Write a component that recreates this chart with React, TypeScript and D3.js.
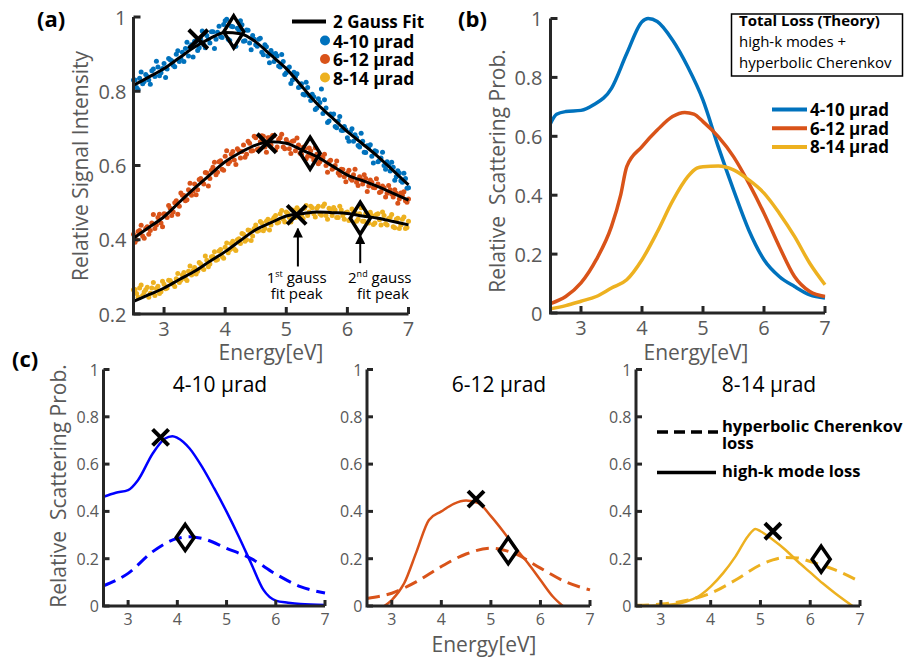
import React from "react";
import * as d3 from "d3";

const W = 909;
const H = 663;
const FONT = "'Open Sans', 'Noto Sans', sans-serif";
const BLUE = "#0072BD";
const ORANGE = "#D95319";
const YELLOW = "#EDB120";
const PURE_BLUE = "#0000FF";
const AXIS = "#262626";
const TICK_TXT = "#595959";

type Pt = [number, number];

// ---- panel (a): measured intensity, two interleaved passes sampled every 0.05 eV
const scatterStart = [2.5, 2.525];
const scatterStep = 0.05;
const signal410 = [
  0.83, 0.81, 0.835, 0.82, 0.845, 0.83, 0.855, 0.84, 0.865, 0.85,
  0.875, 0.86, 0.885, 0.87, 0.9, 0.88, 0.905, 0.915, 0.895, 0.925,
  0.935, 0.91, 0.94, 0.925, 0.95, 0.93, 0.96, 0.94, 0.975, 0.945,
  0.99, 0.94, 0.975, 0.92, 0.97, 0.99, 0.935, 0.965, 0.93, 0.95,
  0.925, 0.94, 0.905, 0.925, 0.895, 0.91, 0.88, 0.895, 0.865, 0.88,
  0.85, 0.865, 0.83, 0.84, 0.81, 0.82, 0.79, 0.81, 0.775, 0.785,
  0.755, 0.77, 0.74, 0.755, 0.72, 0.735, 0.705, 0.72, 0.695, 0.705,
  0.675, 0.69, 0.665, 0.675, 0.65, 0.665, 0.635, 0.65, 0.625, 0.64,
  0.61, 0.62, 0.6, 0.61, 0.585, 0.595, 0.57, 0.58, 0.555, 0.565, 0.54,
];
const signal410b = [
  0.83, 0.805, 0.852, 0.826, 0.84, 0.819, 0.86, 0.881, 0.842, 0.861,
  0.837, 0.888, 0.882, 0.866, 0.909, 0.889, 0.88, 0.932, 0.919, 0.892,
  0.935, 0.917, 0.962, 0.917, 0.94, 0.96, 0.915, 0.959, 0.947, 0.98,
  0.994, 0.937, 0.974, 0.921, 0.964, 0.979, 0.936, 0.964, 0.912, 0.94,
  0.921, 0.943, 0.898, 0.92, 0.877, 0.901, 0.902, 0.868, 0.899, 0.845,
  0.861, 0.821, 0.851, 0.847, 0.812, 0.792, 0.824, 0.788, 0.792, 0.751,
  0.78, 0.806, 0.777, 0.716, 0.739, 0.739, 0.702, 0.732, 0.694, 0.696,
  0.665, 0.699, 0.683, 0.654, 0.687, 0.636, 0.653, 0.656, 0.607, 0.638,
  0.614, 0.636, 0.59, 0.601, 0.609, 0.56, 0.586, 0.559, 0.579, 0.539,
];
const signal612 = [
  0.415, 0.4, 0.425, 0.41, 0.43, 0.415, 0.445, 0.43, 0.46, 0.445,
  0.47, 0.46, 0.485, 0.475, 0.505, 0.49, 0.52, 0.505, 0.535, 0.52,
  0.55, 0.535, 0.565, 0.55, 0.58, 0.565, 0.595, 0.575, 0.61, 0.59,
  0.625, 0.605, 0.63, 0.615, 0.645, 0.62, 0.655, 0.63, 0.66, 0.64,
  0.675, 0.645, 0.68, 0.65, 0.675, 0.655, 0.68, 0.65, 0.675, 0.65,
  0.67, 0.645, 0.665, 0.64, 0.655, 0.63, 0.645, 0.625, 0.64, 0.615,
  0.63, 0.61, 0.62, 0.6, 0.61, 0.59, 0.6, 0.58, 0.59, 0.57,
  0.58, 0.565, 0.575, 0.555, 0.57, 0.55, 0.565, 0.545, 0.555, 0.54,
  0.55, 0.53, 0.54, 0.525, 0.535, 0.515, 0.525, 0.51, 0.52, 0.505, 0.51,
];
const signal612b = [
  0.393, 0.422, 0.439, 0.404, 0.435, 0.425, 0.468, 0.44, 0.469, 0.435,
  0.469, 0.492, 0.465, 0.5, 0.469, 0.526, 0.519, 0.508, 0.552, 0.531,
  0.521, 0.562, 0.557, 0.581, 0.545, 0.587, 0.609, 0.582, 0.613, 0.587,
  0.64, 0.611, 0.638, 0.603, 0.64, 0.638, 0.622, 0.665, 0.639, 0.679,
  0.643, 0.664, 0.679, 0.636, 0.675, 0.681, 0.642, 0.67, 0.684, 0.645,
  0.662, 0.632, 0.667, 0.674, 0.633, 0.649, 0.618, 0.647, 0.624, 0.648,
  0.605, 0.623, 0.63, 0.582, 0.614, 0.593, 0.612, 0.574, 0.589, 0.556,
  0.587, 0.56, 0.59, 0.546, 0.562, 0.575, 0.53, 0.561, 0.541, 0.564,
  0.527, 0.545, 0.515, 0.546, 0.523, 0.535, 0.498, 0.526, 0.529, 0.501,
];
const signal814 = [
  0.265, 0.255, 0.27, 0.25, 0.265, 0.245, 0.27, 0.25, 0.275, 0.26,
  0.28, 0.27, 0.29, 0.28, 0.295, 0.285, 0.305, 0.295, 0.315, 0.305,
  0.325, 0.315, 0.335, 0.32, 0.345, 0.335, 0.355, 0.345, 0.37, 0.355,
  0.38, 0.365, 0.39, 0.375, 0.4, 0.39, 0.415, 0.4, 0.425, 0.41,
  0.44, 0.425, 0.445, 0.43, 0.455, 0.44, 0.46, 0.445, 0.47, 0.455,
  0.475, 0.46, 0.48, 0.46, 0.48, 0.465, 0.485, 0.465, 0.49, 0.47,
  0.485, 0.47, 0.49, 0.465, 0.485, 0.465, 0.48, 0.46, 0.48, 0.455,
  0.475, 0.455, 0.475, 0.45, 0.47, 0.45, 0.47, 0.445, 0.465, 0.445,
  0.47, 0.44, 0.465, 0.44, 0.46, 0.435, 0.455, 0.43, 0.455, 0.43, 0.45,
];
const signal814b = [
  0.266, 0.245, 0.278, 0.259, 0.272, 0.256, 0.285, 0.269, 0.255, 0.288,
  0.268, 0.291, 0.284, 0.274, 0.309, 0.291, 0.312, 0.29, 0.329, 0.317,
  0.308, 0.339, 0.323, 0.356, 0.327, 0.354, 0.368, 0.347, 0.374, 0.35,
  0.391, 0.373, 0.396, 0.371, 0.403, 0.417, 0.396, 0.426, 0.398, 0.43,
  0.423, 0.449, 0.424, 0.45, 0.426, 0.454, 0.465, 0.447, 0.479, 0.448,
  0.471, 0.448, 0.479, 0.486, 0.464, 0.457, 0.492, 0.475, 0.486, 0.461,
  0.49, 0.466, 0.496, 0.455, 0.481, 0.487, 0.46, 0.49, 0.465, 0.473,
  0.452, 0.483, 0.474, 0.455, 0.486, 0.45, 0.467, 0.474, 0.441, 0.468,
  0.454, 0.475, 0.443, 0.457, 0.468, 0.432, 0.458, 0.44, 0.461, 0.433,
];

// two-gaussian fits
const fitEnergy = [2.5, 2.75, 3, 3.25, 3.5, 3.75, 4, 4.25, 4.5, 4.75, 5, 5.25, 5.5, 5.75, 6, 6.25, 6.5, 6.75, 7];
const fit410 = [0.816, 0.838, 0.861, 0.89, 0.919, 0.942, 0.958, 0.955, 0.933, 0.897, 0.861, 0.814, 0.767, 0.729, 0.691, 0.658, 0.624, 0.586, 0.548];
const fit612 = [0.404, 0.433, 0.462, 0.501, 0.539, 0.575, 0.61, 0.635, 0.655, 0.664, 0.66, 0.642, 0.624, 0.599, 0.574, 0.559, 0.543, 0.525, 0.507];
const fit814 = [0.234, 0.252, 0.27, 0.293, 0.315, 0.342, 0.368, 0.398, 0.427, 0.446, 0.464, 0.47, 0.475, 0.473, 0.471, 0.464, 0.458, 0.449, 0.44];

const peak1A: Pt[] = [[3.56, 0.94], [4.68, 0.66], [5.17, 0.467]];
const peak2A: Pt[] = [[4.14, 0.96], [5.39, 0.633], [6.21, 0.458]];

// ---- panel (b): total loss (theory)
const total410: Pt[] = [[2.5, 0.644], [2.6, 0.675], [2.75, 0.684], [3.0, 0.688], [3.2, 0.706], [3.5, 0.763], [3.75, 0.881], [4.0, 0.989], [4.1, 1.0], [4.25, 0.99], [4.5, 0.927], [4.75, 0.836], [5.0, 0.723], [5.25, 0.565], [5.5, 0.418], [5.75, 0.282], [6.0, 0.181], [6.25, 0.124], [6.5, 0.09], [6.75, 0.062], [7, 0.051]];
const total612: Pt[] = [[2.5, 0.032], [2.75, 0.056], [3.0, 0.102], [3.25, 0.181], [3.5, 0.294], [3.65, 0.4], [3.75, 0.497], [4.0, 0.565], [4.25, 0.621], [4.5, 0.667], [4.7, 0.681], [4.85, 0.675], [5.0, 0.65], [5.25, 0.599], [5.5, 0.531], [5.75, 0.441], [6.0, 0.339], [6.25, 0.226], [6.5, 0.124], [6.75, 0.073], [7, 0.056]];
const total814: Pt[] = [[2.5, 0.014], [2.75, 0.025], [3.0, 0.04], [3.25, 0.056], [3.5, 0.085], [3.75, 0.113], [4.0, 0.181], [4.25, 0.275], [4.5, 0.38], [4.75, 0.463], [4.9, 0.492], [5.0, 0.497], [5.25, 0.499], [5.5, 0.486], [5.75, 0.452], [6.0, 0.407], [6.25, 0.339], [6.5, 0.26], [6.75, 0.169], [7, 0.096]];

// ---- panel (c): high-k mode loss (solid) and hyperbolic Cherenkov loss (dashed)
const highK410: Pt[] = [[2.5, 0.462], [2.75, 0.479], [3.0, 0.49], [3.2, 0.532], [3.5, 0.645], [3.75, 0.708], [3.9, 0.718], [4.0, 0.711], [4.25, 0.666], [4.5, 0.589], [4.75, 0.497], [5.0, 0.399], [5.25, 0.293], [5.5, 0.18], [5.75, 0.068], [6.0, 0.023], [6.25, 0.014], [6.5, 0.008], [7, 0.004]];
const cher410: Pt[] = [[2.5, 0.085], [3.0, 0.138], [3.5, 0.23], [4.0, 0.286], [4.25, 0.293], [4.5, 0.286], [5.0, 0.244], [5.5, 0.2], [6.0, 0.135], [6.5, 0.082], [7, 0.055]];
const highK612: Pt[] = [[2.85, 0], [3.0, 0.025], [3.25, 0.096], [3.5, 0.23], [3.75, 0.364], [4.0, 0.4], [4.25, 0.432], [4.5, 0.446], [4.75, 0.435], [5.0, 0.38], [5.25, 0.315], [5.5, 0.244], [5.75, 0.181], [6.0, 0.11], [6.25, 0.04], [6.45, 0]];
const cher612: Pt[] = [[2.5, 0.032], [3.0, 0.054], [3.5, 0.103], [4.0, 0.167], [4.5, 0.22], [5.0, 0.244], [5.25, 0.237], [5.5, 0.22], [6.0, 0.16], [6.5, 0.103], [7, 0.068]];
const highK814: Pt[] = [[2.5, 0], [3.0, 0.003], [3.25, 0.007], [3.5, 0.018], [3.75, 0.04], [4.0, 0.082], [4.25, 0.139], [4.5, 0.21], [4.75, 0.295], [4.9, 0.326], [5.0, 0.316], [5.25, 0.28], [5.5, 0.238], [5.75, 0.188], [6.0, 0.142], [6.25, 0.096], [6.5, 0.054], [6.85, 0]];
const cher814: Pt[] = [[2.5, 0.003], [3.0, 0.008], [3.5, 0.023], [4.0, 0.054], [4.5, 0.11], [5.0, 0.174], [5.25, 0.195], [5.5, 0.205], [5.75, 0.203], [6.0, 0.188], [6.5, 0.153], [7, 0.103]];

const peak1C: Pt[] = [[3.66, 0.713], [4.7, 0.452], [5.25, 0.316]];
const peak2C: Pt[] = [[4.16, 0.29], [5.35, 0.234], [6.22, 0.198]];

const angleLabels = ["4-10 μrad", "6-12 μrad", "8-14 μrad"];
const energyTicks = [3, 4, 5, 6, 7];
const ticksA = [0.2, 0.4, 0.6, 0.8, 1];
const ticksB = [0, 0.2, 0.4, 0.6, 0.8, 1];

type Scale = d3.ScaleLinear<number, number>;

function Axes({ x, y, yTicks, fs, gap, labelDy, tick }: { x: Scale; y: Scale; yTicks: number[]; fs: number; gap: number; labelDy: number; tick: number }) {
  const [x0, x1] = x.range();
  const [y0, y1] = y.range();
  return (
    <g>
      <path d={`M${x0},${y1}V${y0}H${x1}`} fill="none" stroke={AXIS} strokeWidth={3} />
      {yTicks.map((t) => (
        <line key={"y" + t} x1={x0} x2={x0 + tick} y1={y(t)} y2={y(t)} stroke={AXIS} strokeWidth={3} />
      ))}
      {energyTicks.map((t) => (
        <line key={"x" + t} x1={x(t)} x2={x(t)} y1={y0} y2={y0 - tick} stroke={AXIS} strokeWidth={3} />
      ))}
      {yTicks.map((t) => (
        <text key={"yl" + t} x={x0 - gap} y={y(t)} textAnchor="end" dominantBaseline="central" fontSize={fs} fill={TICK_TXT}>
          {String(t)}
        </text>
      ))}
      {energyTicks.map((t) => (
        <text key={"xl" + t} x={x(t)} y={y0 + labelDy} textAnchor="middle" fontSize={fs} fill={TICK_TXT}>
          {t}
        </text>
      ))}
    </g>
  );
}

const Cross = ({ cx, cy, s, w }: { cx: number; cy: number; s: number; w: number }) => (
  <path d={`M${cx - s},${cy - s}L${cx + s},${cy + s}M${cx - s},${cy + s}L${cx + s},${cy - s}`} stroke="#000" strokeWidth={w} fill="none" />
);
const Diamond = ({ cx, cy, a, b, w }: { cx: number; cy: number; a: number; b: number; w: number }) => (
  <path d={`M${cx},${cy - b}L${cx + a},${cy}L${cx},${cy + b}L${cx - a},${cy}Z`} stroke="#000" strokeWidth={w} fill="none" />
);

export default function App() {
  const xA = d3.scaleLinear().domain([2.5, 7]).range([133.5, 408.5]);
  const yA = d3.scaleLinear().domain([0.2, 1]).range([314, 17]);
  const xB = d3.scaleLinear().domain([2.5, 7]).range([550.5, 825]);
  const yB = d3.scaleLinear().domain([0, 1]).range([313, 18.5]);
  const xC = [
    d3.scaleLinear().domain([2.5, 7]).range([103.5, 325]),
    d3.scaleLinear().domain([2.5, 7]).range([367, 590]),
    d3.scaleLinear().domain([2.5, 7]).range([636, 860]),
  ];
  const yC = d3.scaleLinear().domain([0, 1]).range([606, 369.5]);

  const lineOf = (x: Scale, y: Scale) =>
    d3.line<Pt>().x((d) => x(d[0])).y((d) => y(d[1])).curve(d3.curveMonotoneX);

  const lineA = lineOf(xA, yA);
  const lineB = lineOf(xB, yB);

  const scatter = [
    { passes: [signal410, signal410b], fit: fit410, color: BLUE },
    { passes: [signal612, signal612b], fit: fit612, color: ORANGE },
    { passes: [signal814, signal814b], fit: fit814, color: YELLOW },
  ];

  const cPanels = [
    { solid: highK410, dashed: cher410, color: PURE_BLUE },
    { solid: highK612, dashed: cher612, color: ORANGE },
    { solid: highK814, dashed: cher814, color: YELLOW },
  ];
  const titleX = [220, 499, 769];

  return (
    <svg width={W} height={H} viewBox={`0 0 ${W} ${H}`} style={{ position: "absolute", left: 0, top: 0, background: "#fff" }} fontFamily={FONT}>
      <defs>
        <marker id="arrowHead" viewBox="0 0 10 10" refX="9" refY="5" markerWidth="5" markerHeight="5" markerUnits="strokeWidth" orient="auto">
          <path d="M0,0L10,5L0,10Z" fill="#000" />
        </marker>
      </defs>
      <rect width={W} height={H} fill="#fff" />

      {/* ---------------- (a) ---------------- */}
      <g>
        {scatter.map((s, si) => (
          <g key={si}>
            {s.passes.map((vals, pi) =>
              vals.map((v, i) => (
                <circle key={pi + "-" + i} cx={xA(scatterStart[pi] + i * scatterStep)} cy={yA(v)} r={2.5} fill={s.color} />
              ))
            )}
          </g>
        ))}
        {scatter.map((s, si) => (
          <path key={si} d={lineA(fitEnergy.map((e, i) => [e, s.fit[i]] as Pt)) || ""} fill="none" stroke="#000" strokeWidth={3} />
        ))}
        {peak1A.map((p, i) => (
          <Cross key={i} cx={xA(p[0])} cy={yA(p[1])} s={9.5} w={4} />
        ))}
        {peak2A.map((p, i) => (
          <Diamond key={i} cx={xA(p[0])} cy={yA(p[1])} a={10} b={16} w={3.5} />
        ))}
        <line x1={xA(5.19)} x2={xA(5.19)} y1={yA(0.328)} y2={yA(0.43)} stroke="#000" strokeWidth={2} markerEnd="url(#arrowHead)" />
        <line x1={xA(6.21)} x2={xA(6.21)} y1={yA(0.337)} y2={yA(0.413)} stroke="#000" strokeWidth={2} markerEnd="url(#arrowHead)" />
        <text x={xA(5.17)} y={283} textAnchor="middle" fontSize={15} fill="#000">
          1<tspan dy={-6} fontSize={9}>st</tspan><tspan dy={6}> gauss</tspan>
        </text>
        <text x={xA(5.17)} y={299} textAnchor="middle" fontSize={15} fill="#000">fit peak</text>
        <text x={xA(6.53)} y={283} textAnchor="middle" fontSize={15} fill="#000">
          2<tspan dy={-6} fontSize={9}>nd</tspan><tspan dy={6}> gauss</tspan>
        </text>
        <text x={xA(6.58)} y={299} textAnchor="middle" fontSize={15} fill="#000">fit peak</text>

        <Axes x={xA} y={yA} yTicks={ticksA} fs={20} gap={7} labelDy={22} tick={7} />
        <text transform="translate(80,166) rotate(-90)" textAnchor="middle" dominantBaseline="central" fontSize={21} fill={TICK_TXT}>
          Relative Signal Intensity
        </text>
        <text x={271} y={360} textAnchor="middle" fontSize={21} fill={TICK_TXT}>Energy[eV]</text>

        {/* legend */}
        <line x1={292} x2={326} y1={21.5} y2={21.5} stroke="#000" strokeWidth={4} />
        <text x={333} y={21.5} dominantBaseline="central" fontSize={17} fontWeight="bold" fill="#000">2 Gauss Fit</text>
        {scatter.map((s, i) => (
          <g key={i}>
            <circle cx={325} cy={40.5 + i * 18.5} r={5} fill={s.color} />
            <text x={333} y={40.5 + i * 18.5} dominantBaseline="central" fontSize={17.5} fontWeight="bold" fill="#000">
              {angleLabels[i]}
            </text>
          </g>
        ))}
        <text x={37} y={27} fontSize={22} fontWeight="bold" fill="#000">(a)</text>
      </g>

      {/* ---------------- (b) ---------------- */}
      <g>
        {[total410, total612, total814].map((d, i) => (
          <path key={i} d={lineB(d) || ""} fill="none" stroke={[BLUE, ORANGE, YELLOW][i]} strokeWidth={3.5} />
        ))}
        <Axes x={xB} y={yB} yTicks={ticksB} fs={20} gap={8} labelDy={22} tick={7} />
        <text transform="translate(497,171) rotate(-90)" textAnchor="middle" dominantBaseline="central" fontSize={21} fill={TICK_TXT} style={{ whiteSpace: "pre" }}>
          {"Relative  Scattering Prob."}
        </text>
        <text x={696} y={360} textAnchor="middle" fontSize={21} fill={TICK_TXT}>Energy[eV]</text>

        <rect x={731.5} y={14} width={171} height={62} fill="#fff" stroke="#000" strokeWidth={1.5} />
        <text x={739} y={26} fontSize={15} fontWeight="bold" fill="#000">Total Loss (Theory)</text>
        <text x={739} y={47} fontSize={15} fill="#000">high-k modes +</text>
        <text x={739} y={68} fontSize={15} fill="#000">hyperbolic Cherenkov</text>

        {[BLUE, ORANGE, YELLOW].map((c, i) => (
          <g key={i}>
            <line x1={772} x2={807} y1={109.5 + i * 18.7} y2={109.5 + i * 18.7} stroke={c} strokeWidth={4} />
            <text x={810} y={109.5 + i * 18.7} dominantBaseline="central" fontSize={17} fontWeight="bold" fill="#000">
              {angleLabels[i]}
            </text>
          </g>
        ))}
        <text x={458} y={27} fontSize={22} fontWeight="bold" fill="#000">(b)</text>
      </g>

      {/* ---------------- (c) ---------------- */}
      {cPanels.map((p, i) => {
        const ln = lineOf(xC[i], yC);
        return (
          <g key={i}>
            <path d={ln(p.dashed) || ""} fill="none" stroke={p.color} strokeWidth={3} strokeDasharray="13,7" />
            <path d={ln(p.solid) || ""} fill="none" stroke={p.color} strokeWidth={2.5} />
            <Cross cx={xC[i](peak1C[i][0])} cy={yC(peak1C[i][1])} s={8} w={4} />
            <Diamond cx={xC[i](peak2C[i][0])} cy={yC(peak2C[i][1])} a={9} b={13} w={3.5} />
            <Axes x={xC[i]} y={yC} yTicks={ticksB} fs={16} gap={4.5} labelDy={19} tick={6} />
            <text x={titleX[i]} y={392} textAnchor="middle" fontSize={21} fill="#000">{angleLabels[i]}</text>
          </g>
        );
      })}
      <text transform="translate(58,486) rotate(-90)" textAnchor="middle" dominantBaseline="central" fontSize={21} fill={TICK_TXT} style={{ whiteSpace: "pre" }}>
        {"Relative  Scattering Prob."}
      </text>
      <text x={484} y={652} textAnchor="middle" fontSize={21} fill={TICK_TXT}>Energy[eV]</text>
      <text x={12} y={367} fontSize={22} fontWeight="bold" fill="#000">(c)</text>

      {/* legend in third sub-panel */}
      <line x1={657} x2={718} y1={432} y2={432} stroke="#000" strokeWidth={3.5} strokeDasharray="11,6" />
      <text x={722} y={432} fontSize={16.5} fontWeight="bold" fill="#000">hyperbolic Cherenkov</text>
      <text x={722} y={449} fontSize={16.5} fontWeight="bold" fill="#000">loss</text>
      <line x1={657} x2={716} y1={472.5} y2={472.5} stroke="#000" strokeWidth={3.5} />
      <text x={722} y={477} fontSize={16.5} fontWeight="bold" fill="#000">high-k mode loss</text>
    </svg>
  );
}
